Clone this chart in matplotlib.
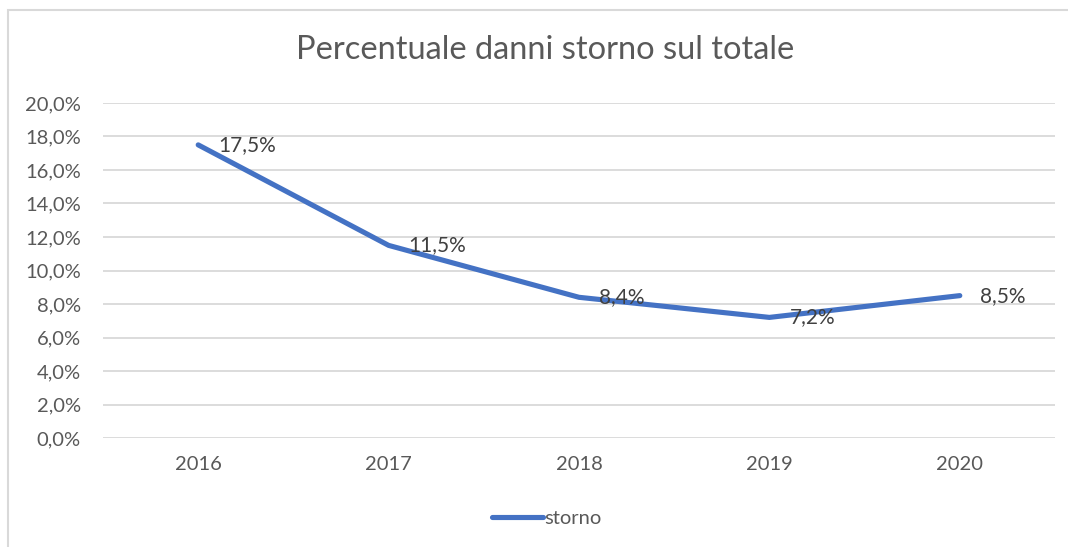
import matplotlib
matplotlib.use("Agg")
import matplotlib.pyplot as plt
from matplotlib.patches import Rectangle
from matplotlib.ticker import FuncFormatter, MultipleLocator

years = ["2016", "2017", "2018", "2019", "2020"]
storno = [0.175, 0.115, 0.084, 0.072, 0.085]
value_labels = ["17,5%", "11,5%", "8,4%", "7,2%", "8,5%"]
title = "Percentuale danni storno sul totale"
series_name = "storno"

plt.rcParams['font.family'] = ['Lato', 'DejaVu Sans']
W, H = 1068, 547
fig = plt.figure(figsize=(W / 100, H / 100), dpi=100)
fig.patch.set_facecolor("white")

# chart frame (cropped at right and bottom)
fig.add_artist(Rectangle((8 / W, -0.05), 1.2, 1 - 10 / H + 0.05, transform=fig.transFigure,
                         fill=False, edgecolor="#D9D9D9", linewidth=1.5))

ax = fig.add_axes([103 / W, 1 - 438 / H, (1055 - 103) / W, (438 - 103) / H])
x = list(range(len(years)))
line, = ax.plot(x, storno, color="#4472C4", linewidth=3.7, solid_capstyle="round",
                solid_joinstyle="round", label=series_name, zorder=3)
ax.set_xlim(-0.5, len(years) - 0.5)
ax.set_ylim(0, 0.20)
ax.yaxis.set_major_locator(MultipleLocator(0.02))
ax.yaxis.set_major_formatter(FuncFormatter(lambda v, p: f"{v*100:.1f}%".replace(".", ",")))
ax.set_xticks(x)
ax.set_xticklabels(years)
ax.grid(axis="y", color="#D9D9D9", linewidth=1.3)
ax.set_axisbelow(True)
for s in ax.spines.values():
    s.set_visible(False)
ax.tick_params(axis="y", length=0, pad=16, labelsize=14.5, labelcolor="#595959")
ax.tick_params(axis="x", length=0, pad=13, labelsize=14.5, labelcolor="#595959")

for xi, yi, lab in zip(x, storno, value_labels):
    ax.annotate(lab, (xi, yi), xytext=(14.5, 0), textcoords="offset points",
                ha="left", va="center", fontsize=15, color="#404040", zorder=4)

fig.text(545 / W, 1 - 50 / H, title, ha="center", va="center", fontsize=23.5, color="#595959")

fig.legend(handles=[line], loc="center", bbox_to_anchor=(547 / W, 1 - 518 / H),
           frameon=False, fontsize=14.5, labelcolor="#595959", handlelength=2.5,
           handletextpad=0.1)

fig.savefig("out.png", dpi=100)
